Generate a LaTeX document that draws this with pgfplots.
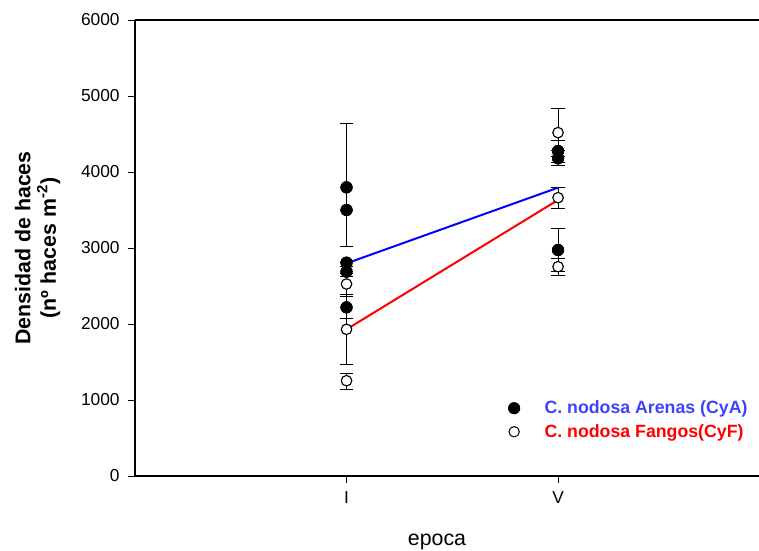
\documentclass[border=0pt]{standalone}
\usepackage{fontspec}
\setmainfont{Liberation Sans}
\usepackage{pgfplots}
\usepackage{pgfplotstable}
\pgfplotsset{compat=1.18}
\definecolor{lineblue}{RGB}{0,0,255}
\definecolor{linered}{RGB}{255,0,0}
\definecolor{txtblue}{RGB}{64,64,255}

\pgfplotstableread{
x y ep em
1 3798 834 781
1 3500 0 0
1 2807 0 0
1 2689 70 70
1 2219 141 141
2 4276 145 145
2 4180 97 97
2 2974 285 285
}\cya

\pgfplotstableread{
x y ep em
1 2526 136 136
1 1930 460 460
1 1254 100 110
2 4518 311 311
2 3662 140 140
2 2754 110 110
}\cyf

\begin{document}
\begin{tikzpicture}
\begin{axis}[
  at={(0,0)}, anchor=south west,
  scale only axis, width=468pt, height=342pt,
  xmin=0, xmax=2.95, ymin=0, ymax=6000,
  axis x line*=box, axis y line*=left,
  axis line style={-, line width=0.9pt, black},
  xtick={1,2}, xticklabels={I,V},
  ytick={0,1000,2000,3000,4000,5000,6000},
  xtick pos=bottom, ytick pos=left,
  tick align=outside, major tick length=5pt,
  tick style={black, line width=0.75pt},
  /pgf/number format/assume math mode=true,
  /pgf/number format/1000 sep={},
  scaled y ticks=false,
  ticklabel style={font=\fontsize{13}{15}\selectfont},
  yticklabel style={xshift=-3pt},
  xticklabel style={yshift=-3pt},
  ylabel={Densidad de haces\\(nº haces m\textsuperscript{-2})},
  ylabel style={at={(axis description cs:-0.156,0.5)}, anchor=center, align=center, font=\bfseries\fontsize{16}{19}\selectfont},
  xlabel={epoca},
  xlabel style={at={(axis description cs:0.484,-0.145)}, anchor=center, font=\fontsize{16}{18}\selectfont},
  legend style={draw=none, fill=none, at={(axis cs:1.764,737)}, anchor=west, font=\bfseries\fontsize{13.3}{15}\selectfont, row sep=2.5pt, inner sep=0pt,
    /tikz/every odd column/.append style={column sep=16.5pt}},
  legend cell align=left,
  clip=false,
]
\addlegendimage{only marks, mark=*, mark size=4.3pt, black, line width=0.5pt}
\addlegendentry{\textcolor{txtblue}{C. nodosa Arenas (CyA)}}
\addlegendimage{only marks, mark=*, mark size=3.9pt, draw=black, fill=white, line width=0.75pt}
\addlegendentry{\textcolor{linered}{C. nodosa Fangos(CyF)}}

% error bars first
\addplot[forget plot, only marks, mark=*, mark size=4.3pt, black, line width=0.5pt,
  error bars/.cd, y dir=both, y explicit,
  error bar style={line width=0.75pt, black},
  error mark options={rotate=90, mark size=5.1pt, line width=0.75pt, black}]
  table[x=x, y=y, y error plus=ep, y error minus=em] {\cya};
\addplot[forget plot, only marks, mark=*, mark size=3.9pt, draw=black, fill=white, line width=0.75pt,
  error bars/.cd, y dir=both, y explicit,
  error bar style={line width=0.75pt, black},
  error mark options={rotate=90, mark size=5.1pt, line width=0.75pt, black}]
  table[x=x, y=y, y error plus=ep, y error minus=em] {\cyf};
% markers on top
\addplot[forget plot, only marks, mark=*, mark size=4.3pt, black, line width=0.5pt]
  table[x=x, y=y] {\cya};
\addplot[forget plot, only marks, mark=*, mark size=3.9pt, draw=black, fill=white, line width=0.75pt]
  table[x=x, y=y] {\cyf};
% mean lines
\addplot[forget plot, lineblue, line width=1.5pt] coordinates {(1,2798) (2,3794)};
\addplot[forget plot, linered, line width=1.5pt] coordinates {(1,1930) (2,3632)};
\end{axis}
\pgfresetboundingbox
\useasboundingbox (-101.25pt,-55.5pt) rectangle (468pt,357pt);
\end{tikzpicture}
\end{document}
